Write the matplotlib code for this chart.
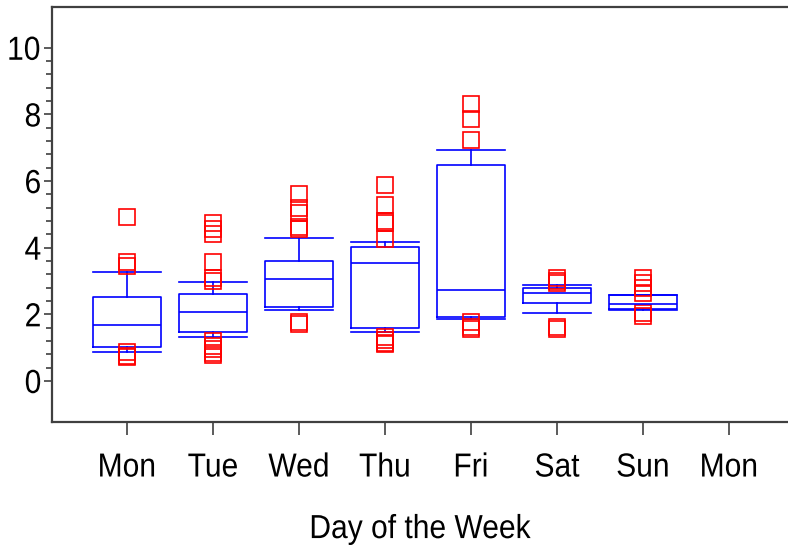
import matplotlib
matplotlib.use("Agg")
import matplotlib.pyplot as plt
from matplotlib.ticker import FixedLocator
from matplotlib.patheffects import AbstractPathEffect
from matplotlib.transforms import Affine2D

plt.rcParams['font.family'] = ['Liberation Sans', 'DejaVu Sans']


class Squeeze(AbstractPathEffect):
    # draw text a little narrower (reference uses a condensed font)
    def __init__(self, sx=0.9):
        super().__init__()
        self.sx = sx

    def draw_path(self, renderer, gc, tpath, affine, rgbFace=None):
        v = tpath.vertices
        cx = (v[:, 0].min() + v[:, 0].max()) / 2 if len(v) else 0
        t = Affine2D().translate(-cx, 0).scale(self.sx, 1).translate(cx, 0) + affine
        renderer.draw_path(gc, tpath, t, rgbFace)


# box stats (one entry per day)
days = ['Mon', 'Tue', 'Wed', 'Thu', 'Fri', 'Sat', 'Sun']
tick_labels = ['Mon', 'Tue', 'Wed', 'Thu', 'Fri', 'Sat', 'Sun', 'Mon']
q1 = [1.03, 1.46, 2.23, 1.59, 1.92, 2.35, 2.15]
med = [1.68, 2.07, 3.06, 3.55, 2.74, 2.65, 2.30]
q3 = [2.52, 2.60, 3.60, 4.03, 6.47, 2.78, 2.57]
whislo = [0.88, 1.33, 2.12, 1.46, 1.85, 2.04, 2.14]
whishi = [3.28, 2.97, 4.30, 4.17, 6.92, 2.89, 2.57]
fliers = [
    [4.92, 3.57, 3.44, 0.86, 0.75, 0.72],
    [4.73, 4.55, 4.40, 3.56, 3.10, 3.00, 1.20, 1.05, 0.95, 0.85, 0.78],
    [5.62, 5.20, 5.05, 4.62, 4.55, 1.78, 1.70],
    [5.87, 5.27, 4.80, 4.75, 4.25, 1.33, 1.22, 1.15, 1.12],
    [8.30, 7.85, 7.22, 1.78, 1.62, 1.55],
    [3.10, 3.00, 2.95, 1.62, 1.55],
    [3.08, 2.93, 2.78, 2.65, 2.05, 1.95],
]

stats = []
for i, d in enumerate(days):
    stats.append(dict(label=d, q1=q1[i], med=med[i], q3=q3[i],
                      whislo=whislo[i], whishi=whishi[i], fliers=fliers[i]))

fig = plt.figure(figsize=(7.88, 5.48), dpi=100)
ax = fig.add_axes([0.066, 0.23, 0.934, 0.757])

blue = dict(color='#0000ff', linewidth=1.2)
ax.bxp(stats, positions=range(1, 8), widths=0.78, capwidths=0.78,
       boxprops=blue, whiskerprops=blue, capprops=blue, medianprops=blue,
       flierprops=dict(marker='s', markersize=12, markerfacecolor='none',
                       markeredgecolor='#ff0000', markeredgewidth=1.2),
       manage_ticks=False)

ax.set_xlim(0.128, 8.686)
ax.set_ylim(-1.23, 11.22)
ax.set_xticks(range(1, 9))
ax.set_xticklabels(tick_labels)
ax.set_yticks(range(0, 11, 2))
ax.yaxis.set_minor_locator(FixedLocator([v * 0.4 for v in range(1, 25) if v % 5 != 0]))

for s in ['left', 'bottom', 'top']:
    ax.spines[s].set_color('#404040')
    ax.spines[s].set_linewidth(1.6)
ax.spines['right'].set_visible(False)

ax.tick_params(axis='x', length=9, width=1.2, color='#404040', pad=13, labelsize=24)
ax.tick_params(axis='y', which='major', length=6, width=1.2, color='#404040', pad=1, labelsize=24)
ax.tick_params(axis='y', which='minor', length=4, width=1.2, color='#404040')

xl = ax.set_xlabel('Day of the Week', fontsize=24, labelpad=22)

for t in ax.get_xticklabels() + ax.get_yticklabels() + [xl]:
    t.set_path_effects([Squeeze(0.9)])

fig.savefig('out.png', dpi=100)
